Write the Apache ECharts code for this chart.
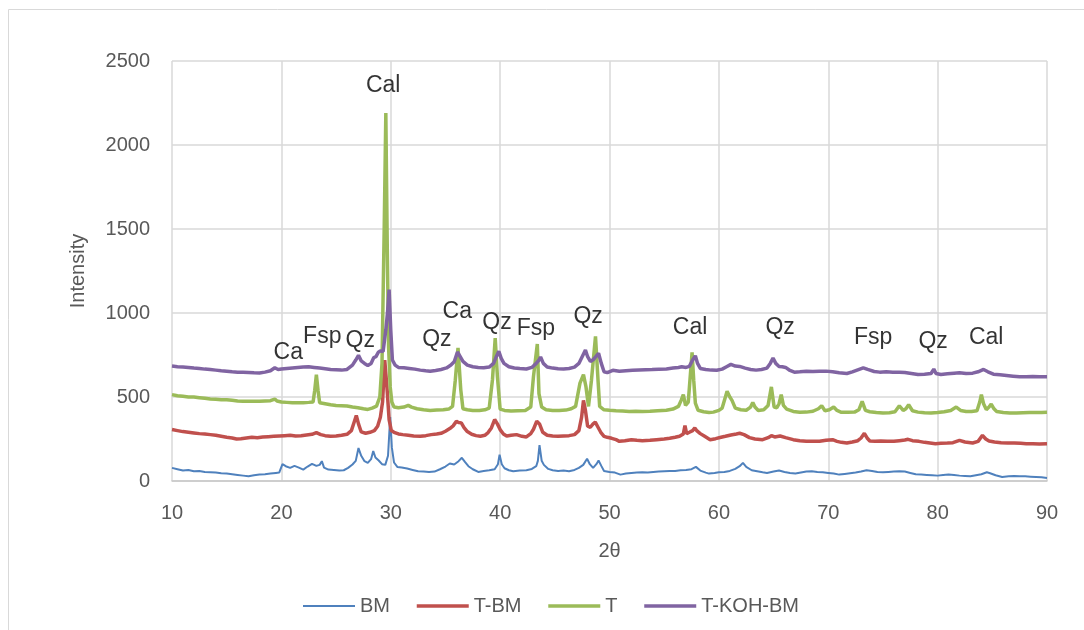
<!DOCTYPE html>
<html>
<head>
<meta charset="utf-8">
<title>XRD</title>
<script src="https://cdn.jsdelivr.net/npm/echarts@6/dist/echarts.min.js"></script>
<style>
html, body { margin: 0; padding: 0; background: #fff; }
#chart { width: 1084px; height: 630px; }
</style>
</head>
<body>
<div id="chart"></div>
<script>
// series names and colours
var seriesNames = ['BM', 'T-BM', 'T', 'T-KOH-BM'];

// [2theta, intensity]
var bm = [[10,78],[10.5,70],[11,62],[11.5,66],[12,58],[12.5,60],[13,54],[13.5,52],[14,50],[14.5,46],[15,44],[15.5,40],[16,36],[16.5,32],[17,28],[17.5,34],[18,38],[18.5,40],[19,44],[19.5,48],[19.8,50],[20.1,100],[20.4,88],[20.8,78],[21.2,90],[21.6,80],[22,68],[22.4,86],[22.8,102],[23.2,90],[23.5,96],[23.7,118],[23.9,80],[24.3,68],[24.8,66],[25.3,62],[25.7,64],[26.1,78],[26.5,98],[26.8,120],[27.05,196],[27.3,150],[27.6,118],[27.9,108],[28.2,130],[28.4,178],[28.6,140],[28.9,122],[29.2,100],[29.5,96],[29.75,150],[29.95,380],[30.1,200],[30.3,110],[30.6,84],[31,80],[31.5,74],[32,66],[32.5,58],[33,56],[33.5,54],[34,56],[34.5,70],[35,86],[35.4,104],[35.8,98],[36.2,118],[36.5,138],[36.8,112],[37.1,88],[37.5,70],[38,54],[38.5,60],[39,64],[39.5,70],[39.8,100],[39.95,157],[40.15,100],[40.4,76],[40.8,64],[41.2,58],[41.8,62],[42.4,64],[42.9,72],[43.3,88],[43.45,120],[43.6,214],[43.8,120],[44,96],[44.4,72],[44.8,64],[45.3,60],[45.8,62],[46.3,58],[46.8,66],[47.2,78],[47.6,96],[47.95,132],[48.2,100],[48.5,78],[48.8,100],[49.0,122],[49.25,90],[49.5,60],[50,54],[50.5,50],[51,38],[51.5,44],[52,48],[52.5,50],[53,52],[53.5,50],[54,54],[54.5,56],[55,58],[55.5,60],[56,60],[56.5,64],[57,66],[57.5,70],[57.9,84],[58.3,62],[58.8,50],[59.1,44],[59.6,48],[60,52],[60.5,54],[61,60],[61.5,72],[61.9,88],[62.2,108],[62.5,84],[63,64],[63.5,58],[64,52],[64.4,48],[65,56],[65.5,62],[66,54],[66.5,48],[67,44],[67.5,50],[68,56],[68.5,58],[69,54],[69.5,52],[70,48],[70.5,44],[71,38],[71.5,42],[72,46],[72.5,50],[73,56],[73.5,64],[74,60],[74.5,54],[75,52],[75.5,54],[76,56],[76.5,58],[77,56],[77.5,48],[78,40],[78.5,38],[79,36],[79.5,34],[80,32],[80.5,36],[81,38],[81.5,36],[82,32],[82.5,30],[83,28],[83.5,34],[84,40],[84.5,52],[84.8,46],[85.3,34],[85.9,24],[86.5,28],[87,30],[87.5,28],[88,28],[88.5,26],[89,24],[89.5,22],[90,18]];

var tbm = [[10,306],[10.5,300],[11,294],[11.5,290],[12,286],[12.5,282],[13,280],[13.5,276],[14,272],[14.5,266],[15,260],[15.5,256],[15.9,250],[16.3,252],[16.8,256],[17.3,260],[17.8,258],[18.3,262],[18.8,264],[19.3,266],[19.8,268],[20.3,270],[20.8,272],[21.3,268],[21.8,270],[22.3,274],[22.8,278],[23.2,288],[23.6,276],[24,270],[24.5,266],[25,268],[25.5,272],[26,278],[26.4,300],[26.65,350],[26.85,390],[27.05,340],[27.3,292],[27.7,284],[28.1,290],[28.5,300],[28.8,326],[29.05,380],[29.25,470],[29.45,720],[29.65,560],[29.85,365],[30.05,300],[30.3,290],[30.7,280],[31.1,276],[31.6,272],[32.1,268],[32.7,266],[33.2,270],[33.7,276],[34.2,280],[34.6,284],[35,296],[35.4,312],[35.7,328],[36,355],[36.2,348],[36.45,346],[36.7,318],[37,294],[37.4,278],[37.8,270],[38.2,266],[38.6,272],[38.9,288],[39.2,316],[39.5,366],[39.75,340],[40,306],[40.3,280],[40.6,268],[41,272],[41.5,276],[42,266],[42.4,262],[42.8,282],[43.05,308],[43.35,356],[43.6,340],[43.9,290],[44.3,272],[44.8,268],[45.3,266],[45.8,268],[46.3,270],[46.8,276],[47.2,300],[47.45,380],[47.62,480],[47.8,420],[48.0,326],[48.25,320],[48.5,340],[48.7,350],[48.95,320],[49.2,290],[49.5,266],[49.8,260],[50.2,254],[50.6,246],[50.9,236],[51.4,240],[52,246],[52.5,242],[53,240],[53.7,242],[54.3,246],[55,250],[55.5,254],[56,260],[56.4,266],[56.75,280],[56.9,330],[57.05,282],[57.3,290],[57.6,300],[57.8,316],[58,298],[58.3,282],[58.7,266],[59.2,246],[59.7,252],[60.2,260],[60.6,266],[61.1,274],[61.6,280],[61.9,284],[62.3,276],[62.8,258],[63.3,250],[64,246],[64.5,258],[64.8,270],[65.1,262],[65.6,268],[66.1,258],[66.8,246],[67.4,240],[68,236],[68.6,236],[69.2,236],[69.8,242],[70.4,246],[70.8,236],[71.2,230],[71.7,226],[72.2,232],[72.7,240],[73,256],[73.3,284],[73.55,256],[73.8,238],[74.3,236],[74.8,238],[75.4,236],[76,236],[76.5,240],[77,244],[77.3,248],[77.7,240],[78.3,236],[78.8,230],[79.3,226],[79.8,222],[80.3,224],[80.9,226],[81.4,228],[82,242],[82.5,232],[83.2,226],[83.7,236],[84.1,272],[84.4,250],[84.7,238],[85.2,232],[85.8,228],[86.4,226],[87,226],[87.6,224],[88.1,222],[88.7,222],[89.3,220],[90,222]];

var t = [[10,514],[10.5,508],[11,504],[11.5,500],[12,500],[12.5,496],[13,492],[13.5,488],[14,486],[14.5,484],[15,484],[15.5,480],[16,476],[16.5,474],[17,474],[17.5,474],[18,474],[18.5,476],[19,478],[19.4,488],[19.6,476],[20,470],[20.5,468],[21,466],[21.5,466],[22,466],[22.5,468],[22.9,470],[23.05,540],[23.2,633],[23.35,540],[23.5,466],[24,460],[24.5,454],[25,450],[25.5,448],[26,446],[26.5,440],[27,436],[27.5,430],[27.9,426],[28.3,434],[28.7,446],[29,500],[29.2,700],[29.4,1500],[29.55,2190],[29.68,1400],[29.8,800],[29.95,560],[30.1,470],[30.3,440],[30.7,436],[31.2,440],[31.6,450],[31.9,440],[32.4,430],[33,424],[33.6,420],[34.2,422],[34.8,424],[35.3,428],[35.65,444],[35.9,600],[36.15,792],[36.4,544],[36.6,430],[37,424],[37.5,420],[38.1,420],[38.6,424],[39.0,434],[39.3,603],[39.55,851],[39.75,623],[40.0,428],[40.4,420],[41,416],[41.6,418],[42.3,420],[42.8,440],[43.05,623],[43.4,815],[43.55,520],[43.8,440],[44.2,424],[44.8,420],[45.4,420],[46,422],[46.5,430],[46.9,444],[47.3,583],[47.62,633],[47.85,560],[48.08,444],[48.35,600],[48.72,861],[48.95,600],[49.1,444],[49.5,424],[50,421],[50.6,418],[51.2,416],[51.8,414],[52.4,415],[53,414],[53.7,415],[54.4,418],[55.2,421],[55.8,428],[56.3,444],[56.55,480],[56.75,514],[56.95,450],[57.2,470],[57.45,680],[57.55,766],[57.7,600],[57.85,464],[58.1,421],[58.6,412],[59.1,408],[59.5,410],[60,420],[60.3,434],[60.55,490],[60.75,534],[61,500],[61.2,480],[61.5,434],[62,424],[62.5,421],[62.9,440],[63.1,468],[63.3,440],[63.6,420],[64.1,424],[64.5,450],[64.8,560],[65.05,440],[65.3,436],[65.5,460],[65.7,514],[65.9,450],[66.2,428],[66.8,414],[67.4,409],[68,410],[68.6,415],[69.1,430],[69.4,448],[69.7,418],[70.1,424],[70.5,440],[70.8,420],[71.2,409],[71.8,409],[72.4,410],[72.8,424],[73.1,474],[73.4,420],[73.8,412],[74.4,408],[75,405],[75.6,406],[76.1,412],[76.5,448],[76.85,420],[77.1,430],[77.35,454],[77.7,418],[78.2,410],[78.8,406],[79.4,405],[80,408],[80.6,412],[81.2,420],[81.7,440],[82.1,420],[82.6,414],[83.1,414],[83.6,418],[83.85,470],[84.0,514],[84.2,460],[84.45,425],[84.7,440],[84.9,458],[85.15,430],[85.4,414],[86,408],[86.6,405],[87.2,405],[87.8,406],[88.4,407],[89,408],[89.5,408],[90,409]];

var tkohbm = [[10,684],[10.5,680],[11,678],[11.5,676],[12,672],[12.5,670],[13,666],[13.5,663],[14,660],[14.5,656],[15,653],[15.5,650],[16,648],[16.5,647],[17,646],[17.5,644],[18,643],[18.5,648],[19,656],[19.4,674],[19.7,664],[20,667],[20.5,670],[21,673],[21.5,676],[22,678],[22.5,680],[23,676],[23.5,672],[24,668],[24.5,664],[25,662],[25.5,660],[26,664],[26.5,690],[26.8,720],[27.05,748],[27.3,715],[27.6,700],[27.9,688],[28.2,700],[28.45,735],[28.65,740],[28.85,765],[29.05,775],[29.3,770],[29.55,900],[29.7,1000],[29.85,1139],[30.0,900],[30.15,720],[30.4,690],[30.7,676],[31.2,674],[31.7,670],[32.2,666],[32.7,660],[33.2,656],[33.6,653],[34.1,658],[34.6,664],[35.1,673],[35.5,690],[35.8,710],[36.1,768],[36.35,740],[36.6,712],[37,690],[37.5,680],[38,676],[38.5,674],[39,678],[39.4,700],[39.65,740],[39.88,772],[40.1,730],[40.35,700],[40.8,680],[41.3,673],[41.8,670],[42.4,667],[42.9,676],[43.3,700],[43.55,720],[43.7,738],[43.95,700],[44.3,679],[44.8,672],[45.3,668],[45.8,667],[46.3,670],[46.8,678],[47.2,700],[47.5,740],[47.8,780],[48.0,740],[48.25,712],[48.5,722],[48.75,740],[49.0,760],[49.25,700],[49.5,650],[49.8,645],[50.3,659],[50.9,653],[51.5,656],[52.1,659],[52.7,661],[53.3,662],[53.9,663],[54.5,665],[55.2,667],[55.8,672],[56.3,676],[56.6,680],[57.0,676],[57.3,682],[57.6,720],[57.85,745],[58.05,700],[58.3,670],[58.8,664],[59.3,660],[59.8,659],[60.3,666],[60.7,680],[61.1,694],[61.5,684],[61.9,682],[62.4,672],[62.9,664],[63.4,660],[63.9,664],[64.4,672],[64.7,700],[64.95,732],[65.2,700],[65.5,682],[65.8,680],[66.1,676],[66.5,658],[66.9,648],[67.4,650],[68,653],[68.6,652],[69.2,654],[69.8,654],[70.4,650],[71,644],[71.7,640],[72.2,650],[72.7,662],[73.2,674],[73.6,664],[74.2,652],[74.7,648],[75.3,650],[75.9,648],[76.5,648],[77,646],[77.6,640],[78.2,634],[78.8,636],[79.4,640],[79.65,666],[79.85,640],[80.3,634],[80.9,638],[81.5,642],[82,644],[82.6,640],[83.2,642],[83.7,650],[84.2,664],[84.6,650],[85.1,636],[85.7,632],[86.3,628],[86.9,624],[87.5,620],[88.1,620],[88.7,622],[89.3,620],[90,620]];

// phase labels: [2theta, intensity, text]
var peakLabels = [
    [29.31, 2353, 'Cal'],
    [20.63, 765, 'Ca'],
    [23.74, 861, 'Fsp'],
    [27.21, 835, 'Qz'],
    [34.22, 841, 'Qz'],
    [36.08, 1008, 'Ca'],
    [39.71, 942, 'Qz'],
    [43.27, 906, 'Fsp'],
    [48.05, 978, 'Qz'],
    [57.37, 912, 'Cal'],
    [65.6, 914, 'Qz'],
    [74.1, 853, 'Fsp'],
    [79.59, 831, 'Qz'],
    [84.44, 853, 'Cal']
];

var chart = echarts.init(document.getElementById('chart'));
var font = 'Liberation Sans, Arial, sans-serif';
var gray = '#595959';
var colors = ['#4F81BD', '#C0504D', '#9BBB59', '#8064A2'];
var widths = [2, 3.5, 3.5, 3.5];

function lineSeries(i, data)
{
    return {
        name: seriesNames[i],
        type: 'line',
        data: data,
        symbol: 'none',
        lineStyle: { color: colors[i], width: widths[i] },
        itemStyle: { color: colors[i] },
        silent: true
    };
}

// legend entries carry their own line width
var legendData = seriesNames.map(function (n, i)
{
    return { name: n, lineStyle: { width: widths[i] } };
});

var option = {
    animation: false,
    textStyle: { fontFamily: font },
    grid: { left: 172, right: 37, top: 61, bottom: 149 },
    legend: {
        data: legendData,
        left: 297,
        top: 591,
        itemWidth: 52,
        itemHeight: 12,
        itemGap: 25,
        // hide the dot, keep only the line
        itemStyle: { opacity: 0 },
        textStyle: { fontSize: 20, color: gray, fontFamily: font }
    },
    xAxis: {
        type: 'value',
        min: 10,
        max: 90,
        interval: 10,
        name: '2θ',
        nameLocation: 'middle',
        nameGap: 60,
        nameTextStyle: { fontSize: 20, color: gray },
        axisLine: { lineStyle: { color: '#c8c8c8', width: 1.5 } },
        axisTick: { show: false },
        axisLabel: { fontSize: 20, color: gray, margin: 22 },
        splitLine: { show: true, lineStyle: { color: '#d9d9d9', width: 1.5 } }
    },
    yAxis: {
        type: 'value',
        min: 0,
        max: 2500,
        interval: 500,
        name: 'Intensity',
        nameLocation: 'middle',
        nameGap: 84,
        nameTextStyle: { fontSize: 20, color: gray },
        axisLine: { show: false },
        axisTick: { show: false },
        axisLabel: {
            fontSize: 20,
            color: gray,
            margin: 22,
            formatter: function (v) { return String(v); }
        },
        splitLine: { lineStyle: { color: '#d9d9d9', width: 1.5 } }
    },
    series: [
        lineSeries(0, bm),
        lineSeries(1, tbm),
        lineSeries(2, t),
        lineSeries(3, tkohbm),
        {
            name: 'labels',
            type: 'scatter',
            data: peakLabels,
            symbolSize: 0,
            silent: true,
            label: {
                show: true,
                position: 'inside',
                fontSize: 23,
                color: '#000',
                fontFamily: font,
                formatter: function (p) { return p.data[2]; }
            }
        }
    ],
    // chart border, only the left and top edges show in the picture
    graphic: [
        { type: 'line', shape: { x1: 8.5, y1: 9.5, x2: 1084, y2: 9.5 }, style: { stroke: '#d9d9d9', lineWidth: 1 } },
        { type: 'line', shape: { x1: 8.5, y1: 9.5, x2: 8.5, y2: 630 }, style: { stroke: '#d9d9d9', lineWidth: 1 } }
    ]
};

chart.setOption(option);
</script>
</body>
</html>
